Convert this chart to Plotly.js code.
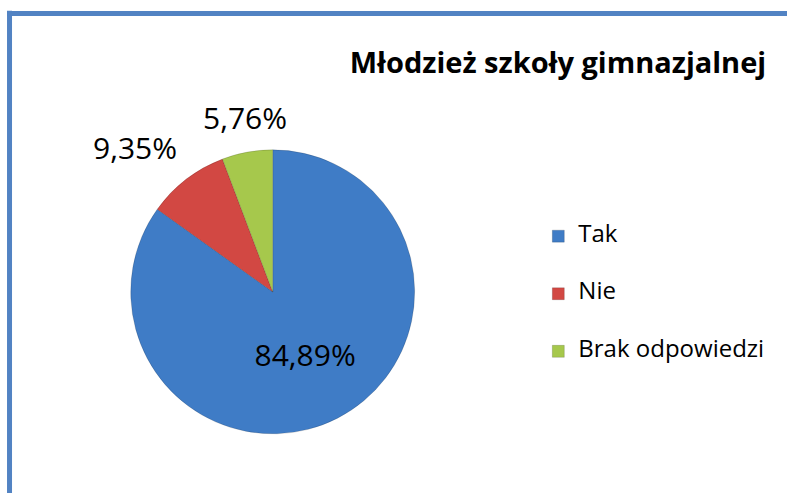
<!DOCTYPE html>
<html>
<head>
<meta charset="utf-8">
<script src="https://cdn.plot.ly/plotly-3.0.1.min.js"></script>
<style>html,body{margin:0;padding:0;background:#fff;} #chart{width:787px;height:493px;}</style>
</head>
<body>
<div id="chart"></div>
<script>
var categories = ["Tak", "Nie", "Brak odpowiedzi"];
var values = [84.89, 9.35, 5.76];
var chartTitle = "Młodzież szkoły gimnazjalnej";
var colors = ["#3F7CC6", "#D24843", "#A6C84C"];

var W = 787, H = 493;
var pieDomain = { x: [0.166, 0.527], y: [0.12, 0.696] };
var labelFont = { family: "Open Sans, sans-serif", size: 30, color: "#000" };

var legendLabels = categories.map(function (c) {
  return '&nbsp;<br><span style="font-size:24px">' + c + '</span><br>&nbsp;';
});

var total = values.reduce(function (a, b) { return a + b; }, 0);
function fmtPct(v) { return (v / total * 100).toFixed(2).replace(".", ",") + "%"; }

// geometry of the pie in pixels (derived from the domain)
var cx = (pieDomain.x[0] + pieDomain.x[1]) / 2 * W;
var cy = (1 - (pieDomain.y[0] + pieDomain.y[1]) / 2) * H;
var R = Math.min((pieDomain.x[1] - pieDomain.x[0]) * W, (pieDomain.y[1] - pieDomain.y[0]) * H) / 2;

// outside labels for the small slices, placed along each slice bisector
var annotations = [];
var cum = 0;
values.forEach(function (v, i) {
  var frac = v / total;
  var mid = (cum + frac / 2) * 2 * Math.PI; // clockwise from top
  cum += frac;
  if (i === 0) return;
  var dx = Math.sin(mid), dy = -Math.cos(mid);
  var dist = R + 12;
  var px = cx + dx * dist, py = cy + dy * dist;
  annotations.push({
    xref: "paper", yref: "paper",
    x: px / W, y: 1 - py / H,
    xanchor: dx < -0.35 ? "right" : (dx > 0.35 ? "left" : "center"),
    yanchor: dy < -0.35 ? "bottom" : (dy > 0.35 ? "top" : "middle"),
    text: fmtPct(v),
    showarrow: false,
    font: labelFont
  });
});

var trace = {
  type: "pie",
  labels: legendLabels,
  values: values,
  sort: false,
  direction: "clockwise",
  rotation: 0,
  marker: { colors: colors, line: { color: "rgba(0,0,0,0.15)", width: 1 } },
  texttemplate: "%{percent:.2%}",
  textposition: ["inside", "none", "none"],
  insidetextorientation: "horizontal",
  textfont: labelFont,
  insidetextfont: labelFont,
  hoverinfo: "skip",
  automargin: false,
  domain: pieDomain
};

var layout = {
  width: W,
  height: H,
  margin: { l: 0, r: 0, t: 0, b: 0 },
  paper_bgcolor: "#ffffff",
  separators: ", ",
  title: {
    text: "<b>" + chartTitle + "</b>",
    x: 0.709, xref: "paper", xanchor: "center",
    y: 0.872, yref: "paper", yanchor: "middle",
    font: { family: "Open Sans, sans-serif", size: 29, color: "#000" }
  },
  showlegend: true,
  legend: {
    x: 0.684, xanchor: "left",
    y: 0.404, yanchor: "middle",
    font: { family: "Open Sans, sans-serif", size: 14, color: "#000" },
    bgcolor: "rgba(0,0,0,0)"
  },
  annotations: annotations,
  shapes: [
    { type: "line", xref: "paper", yref: "paper", x0: 0.0121, x1: 0.0121, y0: 0.978, y1: -0.02,
      line: { color: "#5283C3", width: 5 } },
    { type: "line", xref: "paper", yref: "paper", x0: 0.0089, x1: 1.02, y0: 0.9726, y1: 0.9726,
      line: { color: "#5283C3", width: 5 } }
  ]
};

Plotly.newPlot("chart", [trace], layout, { displayModeBar: false, staticPlot: true });
</script>
</body>
</html>
